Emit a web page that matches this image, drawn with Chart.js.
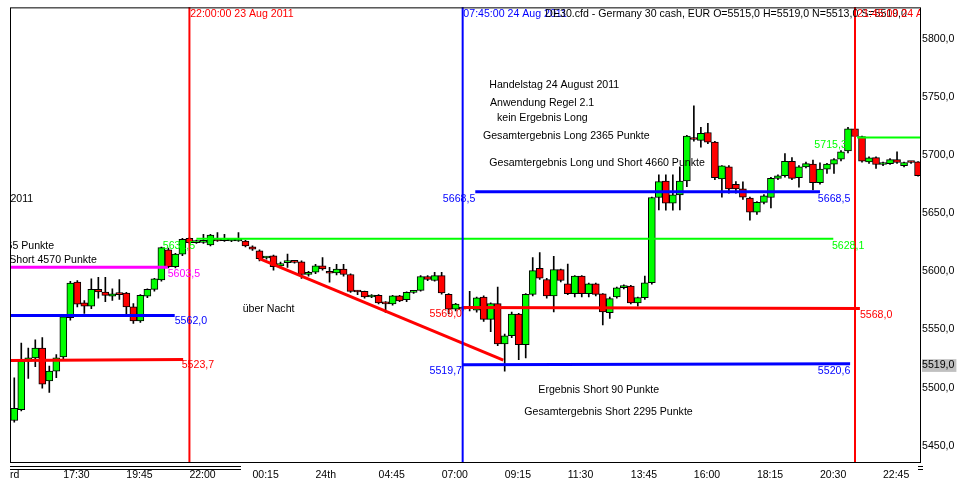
<!DOCTYPE html>
<html>
<head>
<meta charset="utf-8">
<script src="https://cdn.jsdelivr.net/npm/chart.js@4.4.1/dist/chart.umd.min.js"></script>
<style>
  html, body { margin: 0; padding: 0; background: #fff; }
</style>
</head>
<body>
<canvas id="chart" width="961" height="487"></canvas>
<script>
// =============================================
// DATA  (15 minute bars, bar 0 = 23 Aug 15:15)
// =============================================

const firstBar = 2;

const open = [
  5471.7, 5481.0, 5522.7, 5525.6, 5534.1, 5505.7, 5514.2, 5526.4, 5560.1, 5590.8,
  5572.9, 5570.1, 5584.5, 5582.3, 5578.6, 5580.5, 5581.4, 5569.5, 5557.3, 5578.6,
  5584.5, 5592.7, 5618.6, 5604.1, 5614.8, 5628.5, 5624.8, 5625.0, 5622.8, 5626.5,
  5626.5, 5626.2, 5626.2, 5626.2, 5621.1, 5617.7, 5611.5, 5613.4, 5604.7, 5607.5,
  5608.3, 5608.3, 5597.3, 5599.3, 5604.9, 5598.7, 5598.7, 5602.1, 5597.3, 5582.8,
  5582.8, 5578.0, 5579.4, 5572.9, 5572.0, 5578.9, 5575.7, 5582.0, 5583.7, 5595.6,
  5592.2, 5596.4, 5580.3, 5567.5, 5568.5, 5568.0, 5566.7, 5578.0, 5558.7, 5572.3,
  5537.7, 5544.6, 5563.3, 5536.9, 5580.3, 5602.7, 5593.0, 5578.9, 5601.5, 5589.3,
  5580.8, 5595.9, 5580.8, 5589.3, 5580.8, 5564.4, 5578.0, 5585.9, 5587.4, 5572.9,
  5577.4, 5590.2, 5663.6, 5677.8, 5658.8, 5665.9, 5677.8, 5714.9, 5712.7, 5719.5,
  5711.3, 5679.5, 5690.0, 5675.0, 5671.0, 5663.1, 5650.9, 5659.4, 5663.6, 5680.1,
  5682.3, 5694.8, 5680.6, 5690.0, 5692.3, 5676.4, 5688.0, 5692.3, 5696.5, 5703.6,
  5722.6, 5716.1, 5694.3, 5697.9, 5692.0, 5692.8, 5696.2, 5690.9, 5694.3, 5694.3
];
const high = [
  5508.5, 5538.3, 5534.0, 5541.2, 5543.1, 5518.5, 5528.4, 5562.0, 5591.5, 5592.2,
  5575.0, 5593.6, 5595.0, 5595.0, 5585.0, 5593.0, 5582.0, 5572.3, 5580.0, 5585.0,
  5594.0, 5621.0, 5620.0, 5615.5, 5628.5, 5629.0, 5627.0, 5631.9, 5632.0, 5633.3,
  5631.9, 5627.0, 5633.3, 5626.8, 5622.0, 5618.5, 5612.5, 5614.0, 5608.0, 5615.0,
  5609.0, 5609.0, 5600.0, 5606.0, 5612.0, 5603.5, 5606.0, 5606.0, 5598.0, 5583.5,
  5583.0, 5580.0, 5580.0, 5574.0, 5579.5, 5579.5, 5582.5, 5583.5, 5596.5, 5596.5,
  5599.3, 5599.3, 5581.0, 5572.5, 5570.0, 5582.8, 5578.0, 5579.0, 5573.0, 5586.5,
  5546.0, 5565.0, 5564.0, 5581.0, 5612.0, 5616.3, 5594.0, 5612.9, 5602.0, 5606.4,
  5596.5, 5596.5, 5590.0, 5590.0, 5581.0, 5578.0, 5586.5, 5588.5, 5588.0, 5578.0,
  5596.0, 5664.0, 5683.0, 5683.0, 5683.0, 5690.0, 5717.0, 5742.4, 5724.0, 5727.4,
  5712.0, 5691.0, 5691.0, 5677.2, 5677.0, 5664.0, 5660.0, 5666.0, 5681.0, 5683.0,
  5701.3, 5697.9, 5691.0, 5694.0, 5695.7, 5693.4, 5693.0, 5697.0, 5704.0, 5724.0,
  5724.0, 5716.5, 5698.5, 5698.5, 5694.0, 5697.0, 5702.8, 5694.0, 5694.5, 5694.5
];
const low = [
  5470.3, 5480.0, 5508.0, 5518.0, 5499.5, 5495.8, 5508.5, 5524.0, 5558.0, 5569.5,
  5563.8, 5568.0, 5577.0, 5574.0, 5575.0, 5576.0, 5561.0, 5555.3, 5556.0, 5577.5,
  5583.0, 5591.5, 5603.0, 5603.0, 5613.5, 5624.0, 5624.0, 5624.0, 5622.0, 5625.8,
  5625.8, 5625.5, 5625.8, 5621.0, 5618.0, 5609.0, 5610.5, 5601.0, 5603.5, 5603.5,
  5607.0, 5594.0, 5596.0, 5598.0, 5601.0, 5590.8, 5597.0, 5596.0, 5582.0, 5580.0,
  5577.0, 5577.5, 5572.0, 5564.7, 5571.0, 5574.0, 5574.0, 5581.0, 5583.0, 5592.0,
  5591.5, 5580.5, 5563.5, 5566.0, 5566.0, 5566.0, 5565.0, 5557.0, 5548.2, 5536.0,
  5514.2, 5543.0, 5524.1, 5525.6, 5579.0, 5593.0, 5577.0, 5565.2, 5591.0, 5580.0,
  5578.0, 5578.0, 5578.0, 5579.0, 5553.9, 5559.6, 5577.0, 5585.0, 5572.0, 5570.0,
  5576.0, 5589.0, 5653.0, 5652.6, 5652.6, 5653.0, 5673.0, 5712.0, 5707.0, 5710.0,
  5679.0, 5663.9, 5667.3, 5667.3, 5662.0, 5644.1, 5649.0, 5658.0, 5654.6, 5679.0,
  5681.0, 5679.0, 5672.4, 5689.0, 5670.1, 5675.0, 5684.3, 5684.3, 5695.0, 5702.0,
  5715.0, 5694.0, 5693.0, 5688.6, 5691.0, 5692.0, 5693.0, 5690.0, 5693.0, 5682.0
];
const close = [
  5482.2, 5522.7, 5525.6, 5534.1, 5502.9, 5514.2, 5525.6, 5561.0, 5589.9, 5571.8,
  5570.1, 5584.5, 5582.3, 5579.4, 5580.8, 5580.0, 5569.5, 5557.3, 5579.4, 5584.5,
  5593.6, 5620.5, 5604.1, 5614.8, 5627.6, 5624.8, 5626.2, 5625.5, 5631.3, 5626.2,
  5626.8, 5626.5, 5626.5, 5622.0, 5619.1, 5611.0, 5611.8, 5604.1, 5606.7, 5608.3,
  5607.8, 5597.3, 5599.3, 5604.9, 5602.1, 5598.4, 5602.1, 5597.3, 5582.8, 5582.3,
  5578.0, 5579.4, 5572.9, 5572.0, 5578.9, 5574.6, 5582.0, 5582.8, 5595.6, 5593.0,
  5596.4, 5581.4, 5567.5, 5571.8, 5567.5, 5568.6, 5577.2, 5558.7, 5572.3, 5537.7,
  5544.6, 5563.3, 5536.9, 5580.3, 5600.7, 5594.2, 5578.9, 5601.5, 5592.2, 5580.8,
  5595.9, 5580.8, 5589.3, 5580.3, 5565.2, 5576.6, 5585.9, 5587.9, 5572.9, 5577.4,
  5590.2, 5663.6, 5677.2, 5658.8, 5665.9, 5677.8, 5716.4, 5713.5, 5718.9, 5711.3,
  5680.6, 5690.9, 5671.0, 5671.0, 5663.9, 5650.9, 5659.4, 5665.0, 5680.1, 5682.3,
  5694.8, 5680.1, 5690.0, 5692.8, 5676.4, 5688.0, 5692.3, 5696.2, 5702.8, 5722.6,
  5716.1, 5694.8, 5697.7, 5692.0, 5693.4, 5696.2, 5693.7, 5693.7, 5693.7, 5682.4
];

// time axis
const tickBars   = [1.39, 9, 18, 27, 36, 45, 54, 63, 72, 81, 90, 99, 108, 117, 126];
const tickLabels = ['rd', '17:30', '19:45', '22:00', '00:15', '24th', '04:45', '07:00',
                    '09:15', '11:30', '13:45', '16:00', '18:15', '20:30', '22:45'];

// price axis
const priceTicks = [5450, 5500, 5519, 5550, 5600, 5650, 5700, 5750, 5800];
const lastPrice = 5519;

// vertical time markers (bar index)
const timeMarkers = [
  { bar: 27,  color: '#ff0000' },
  { bar: 66,  color: '#0000ff' },
  { bar: 122, color: '#ff0000' }
];

// drawn level / trend lines: from bar, to bar, start price, end price
const levelLines = [
  { from: 1.39,  to: 23.9,   v1: 5603.5, v2: 5603.5, color: '#ff00ff', width: 3 },
  { from: 1.39,  to: 24.9,   v1: 5562.0, v2: 5562.0, color: '#0000ff', width: 3 },
  { from: 1.39,  to: 26.1,   v1: 5523.3, v2: 5524.1, color: '#ff0000', width: 3 },
  { from: 28.0,  to: 118.9,  v1: 5628.1, v2: 5628.1, color: '#00ff00', width: 2 },
  { from: 36.9,  to: 71.8,   v1: 5611.2, v2: 5523.6, color: '#ff0000', width: 3 },
  { from: 67.8,  to: 117.0,  v1: 5668.5, v2: 5668.5, color: '#0000ff', width: 3 },
  { from: 66.0,  to: 122.7,  v1: 5569.0, v2: 5568.0, color: '#ff0000', width: 3 },
  { from: 66.0,  to: 121.3,  v1: 5519.7, v2: 5520.6, color: '#0000ff', width: 3 },
  { from: 122.3, to: 131.42, v1: 5715.3, v2: 5715.3, color: '#00ff00', width: 2 }
];

// text objects on the chart: anchor bar, anchor price
const notes = [
  { text: '22:00:00 23 Aug 2011', bar: 27.1, price: 5821.3, color: '#ff0000' },
  { text: '07:45:00 24 Aug 2011', bar: 66.1, price: 5821.3, color: '#0000ff' },
  { text: 'DE30.cfd - Germany 30 cash, EUR O=5515,0 H=5519,0 N=5513,0 S=5519,0', bar: 77.8, price: 5821.3, color: '#000' },
  { text: '21:45:00 24 Aug 2011', bar: 122.3, price: 5821.3, color: '#ff0000' },

  { text: 'Handelstag 23 August 2011', bar: 4.7, price: 5662.5, color: '#000', align: 'right' },
  { text: 'Gesamtergebnis Long 2365 Punkte', bar: 7.7, price: 5621.9, color: '#000', align: 'right' },
  { text: 'Gesamtergebnis Long und Short 4570 Punkte', bar: 13.8, price: 5610.1, color: '#000', align: 'right' },

  { text: 'Handelstag 24 August 2011', bar: 69.8, price: 5760.0, color: '#000' },
  { text: 'Anwendung Regel 2.1', bar: 69.9, price: 5744.5, color: '#000' },
  { text: 'kein Ergebnis Long', bar: 70.9, price: 5731.7, color: '#000' },
  { text: 'Gesamtergebnis Long 2365 Punkte', bar: 68.9, price: 5716.1, color: '#000' },
  { text: 'Gesamtergebnis Long und Short 4660 Punkte', bar: 69.8, price: 5692.8, color: '#000' },
  { text: 'Ergebnis Short 90 Punkte', bar: 76.8, price: 5498.1, color: '#000' },
  { text: 'Gesamtergebnis Short 2295 Punkte', bar: 74.8, price: 5479.3, color: '#000' },
  { text: 'über Nacht', bar: 34.6, price: 5567.8, color: '#000' },

  { text: '5603,5', bar: 23.9, price: 5597.8, color: '#ff00ff' },
  { text: '5562,0', bar: 24.9, price: 5557.3, color: '#0000ff' },
  { text: '5523,7', bar: 25.9, price: 5519.1, color: '#ff0000' },
  { text: '5631,5', bar: 23.2, price: 5621.9, color: '#00ff00' },
  { text: '5628,1', bar: 118.7, price: 5622.2, color: '#00ff00' },
  { text: '5668,5', bar: 67.8, price: 5662.2, color: '#0000ff', align: 'right' },
  { text: '5668,5', bar: 116.7, price: 5662.2, color: '#0000ff' },
  { text: '5569,0', bar: 65.9, price: 5563.5, color: '#ff0000', align: 'right' },
  { text: '5568,0', bar: 122.7, price: 5562.7, color: '#ff0000' },
  { text: '5519,7', bar: 65.9, price: 5514.2, color: '#0000ff', align: 'right' },
  { text: '5520,6', bar: 116.7, price: 5514.2, color: '#0000ff' },
  { text: '5715,3', bar: 116.2, price: 5709.0, color: '#00ff00' }
];

const xMin = 1.39, xMax = 131.42;
const yMin = 5436.0, yMax = 5827.2;

const FONT = '"Liberation Sans", Arial, sans-serif';

// =============================================
// PLUGIN: frame, text objects, scroll marks
// =============================================

const chartDecor = {
  id: 'chartDecor',
  afterDatasetsDraw(chart) {
    const { ctx, chartArea: a, scales: { x, y } } = chart;

    ctx.save();
    ctx.beginPath();
    ctx.rect(a.left, a.top, a.right - a.left, a.bottom - a.top);
    ctx.clip();
    ctx.textBaseline = 'middle';
    notes.forEach(n => {
      ctx.font = (n.size || 10.6) + 'px ' + FONT;
      ctx.fillStyle = n.color;
      ctx.textAlign = n.align || 'left';
      ctx.fillText(n.text, x.getPixelForValue(n.bar), y.getPixelForValue(n.price));
    });
    ctx.restore();

    ctx.save();
    ctx.strokeStyle = '#000';
    ctx.lineWidth = 1;
    ctx.strokeRect(a.left + 0.5, a.top + 0.5, a.right - a.left - 1, a.bottom - a.top);
    // scroll marks under the time axis
    ctx.beginPath();
    ctx.moveTo(a.left, a.bottom + 4.5);  ctx.lineTo(a.left + 231, a.bottom + 4.5);
    ctx.moveTo(a.left, a.bottom + 7.5);  ctx.lineTo(a.left + 231, a.bottom + 7.5);
    ctx.moveTo(a.right - 3, a.bottom + 4.5); ctx.lineTo(a.right + 2, a.bottom + 4.5);
    ctx.moveTo(a.right - 3, a.bottom + 7.5); ctx.lineTo(a.right + 2, a.bottom + 7.5);
    ctx.stroke();
    ctx.restore();
  }
};

// =============================================
// CHART
// =============================================

const bars = open.map((o, k) => firstBar + k);
const candleColors = open.map((o, k) => close[k] >= o ? '#00ff00' : '#ff0000');

const lineDatasets = levelLines.map(l => ({
  type: 'line',
  data: [{ x: l.from, y: l.v1 }, { x: l.to, y: l.v2 }],
  borderColor: l.color,
  borderWidth: l.width,
  pointRadius: 0,
  fill: false,
  order: 0
}));

const markerDatasets = timeMarkers.map(m => ({
  type: 'line',
  data: [{ x: m.bar, y: yMin - 50 }, { x: m.bar, y: yMax + 50 }],
  borderColor: m.color,
  borderWidth: 2,
  pointRadius: 0,
  fill: false,
  order: 0
}));

new Chart(document.getElementById('chart'), {
  type: 'bar',
  data: {
    datasets: [
      ...markerDatasets,
      ...lineDatasets,
      {
        label: 'body',
        data: bars.map((b, k) => ({ x: b, y: [open[k], close[k]] })),
        backgroundColor: candleColors,
        borderColor: '#000',
        borderWidth: 1,
        borderSkipped: false,
        barThickness: 7,
        minBarLength: 2,
        grouped: false,
        order: 1
      },
      {
        label: 'wick',
        data: bars.map((b, k) => ({ x: b, y: [low[k], high[k]] })),
        backgroundColor: '#000',
        borderWidth: 0,
        barThickness: 1,
        grouped: false,
        order: 2
      }
    ]
  },
  options: {
    responsive: false,
    animation: false,
    layout: { padding: { left: 10, top: 2, right: 0, bottom: 0 } },
    plugins: {
      legend: { display: false },
      tooltip: { enabled: false }
    },
    scales: {
      x: {
        type: 'linear',
        min: xMin,
        max: xMax,
        offset: false,
        grid: { display: false, drawTicks: false },
        border: { display: false },
        afterBuildTicks: s => { s.ticks = tickBars.map(v => ({ value: v })); },
        afterFit: s => { s.height = 25; },
        ticks: {
          autoSkip: false,
          maxRotation: 0,
          minRotation: 0,
          align: 'start',
          padding: 7,
          color: '#000',
          font: { family: FONT, size: 10.5 },
          callback: (v, i) => tickLabels[i]
        }
      },
      y: {
        position: 'right',
        min: yMin,
        max: yMax,
        grid: { display: false, drawTicks: false },
        border: { display: false },
        afterBuildTicks: s => { s.ticks = priceTicks.map(v => ({ value: v })); },
        afterFit: s => { s.width = 40; },
        ticks: {
          autoSkip: false,
          padding: 1,
          color: '#000',
          font: { family: FONT, size: 10.6 },
          callback: v => v.toFixed(1).replace('.', ','),
          showLabelBackdrop: true,
          backdropColor: c => (c.tick && c.tick.value === lastPrice) ? '#c0c0c0' : 'rgba(0,0,0,0)',
          backdropPadding: { top: 0, bottom: 0, left: 0, right: 2 }
        }
      }
    }
  },
  plugins: [chartDecor]
});
</script>
</body>
</html>
